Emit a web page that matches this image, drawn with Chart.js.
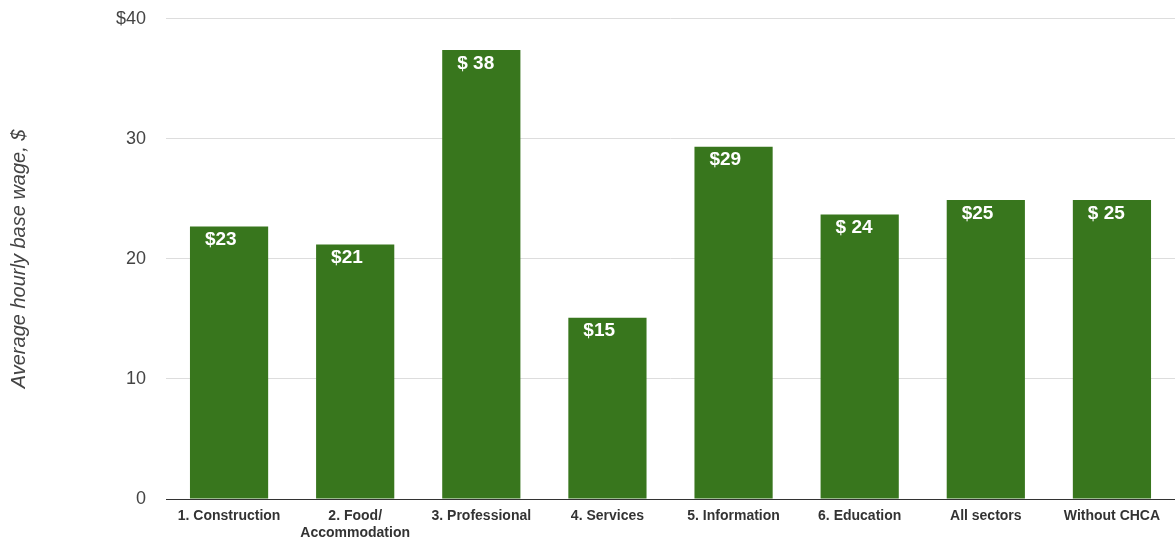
<!DOCTYPE html>
<html>
<head>
<meta charset="utf-8">
<script src="https://cdn.jsdelivr.net/npm/chart.js@4"></script>
<style>
html,body{margin:0;padding:0;background:#fff;}
#wrap{position:relative;width:1175px;height:542px;}
</style>
</head>
<body>
<div id="wrap"><canvas id="c" width="1175" height="542"></canvas></div>
<script>
const categories = [["1. Construction"], ["2. Food/", "Accommodation"], ["3. Professional"], ["4. Services"], ["5. Information"], ["6. Education"], ["All sectors"], ["Without CHCA"]];
const wages = [22.7, 21.2, 37.4, 15.1, 29.35, 23.7, 24.9, 24.9];
const valueLabels = ["$23", "$21", "$ 38", "$15", "$29", "$ 24", "$25", "$ 25"];
const yTicks = [0, 10, 20, 30, 40];
const yTitle = "Average hourly base wage, $";

const labelPlugin = {
  id: 'barLabels',
  afterDatasetsDraw(chart) {
    const ctx = chart.ctx;
    const meta = chart.getDatasetMeta(0);
    ctx.save();
    ctx.fillStyle = '#ffffff';
    ctx.font = 'bold 19px "Liberation Sans Narrow", "Liberation Sans", Arial, sans-serif';
    ctx.textAlign = 'left';
    ctx.textBaseline = 'top';
    meta.data.forEach((bar, i) => {
      const left = bar.x - bar.width / 2;
      ctx.fillText(valueLabels[i], left + 15, bar.y + 4);
    });
    ctx.restore();
  }
};

new Chart(document.getElementById('c'), {
  type: 'bar',
  data: {
    labels: categories,
    datasets: [{
      data: wages,
      backgroundColor: '#38761d',
      borderWidth: 0,
      barPercentage: 0.62,
      categoryPercentage: 1.0
    }]
  },
  options: {
    responsive: false,
    animation: false,
    layout: { padding: { top: 8, right: 0, left: 0, bottom: 0 } },
    plugins: { legend: { display: false }, tooltip: { enabled: false } },
    scales: {
      x: {
        grid: { display: false, drawTicks: false },
        border: { color: '#333333', width: 1 },
        ticks: {
          color: '#333333',
          font: { family: '"Liberation Sans", Arial, sans-serif', size: 14, weight: 'bold' },
          padding: 9,
          maxRotation: 0,
          autoSkip: false
        },
        afterFit(s) { s.height = 43; }
      },
      y: {
        min: 0,
        max: 40,
        afterBuildTicks(s) { s.ticks = yTicks.map(v => ({ value: v })); },
        grid: { color: '#dddddd', drawTicks: true, tickLength: 12, tickColor: 'rgba(0,0,0,0)', lineWidth: 1 },
        border: { display: false },
        ticks: {
          color: '#444444',
          padding: 8,
          font: { family: '"Liberation Sans", Arial, sans-serif', size: 18 },
          callback: (v) => v === 40 ? '$40' : String(v)
        },
        title: {
          display: true,
          text: yTitle,
          color: '#444444',
          font: { family: '"Liberation Sans", Arial, sans-serif', size: 20, style: 'italic' },
          padding: { top: 7, bottom: 0 }
        },
        afterFit(s) { s.width = 166; }
      }
    }
  },
  plugins: [labelPlugin]
});
</script>
</body>
</html>
